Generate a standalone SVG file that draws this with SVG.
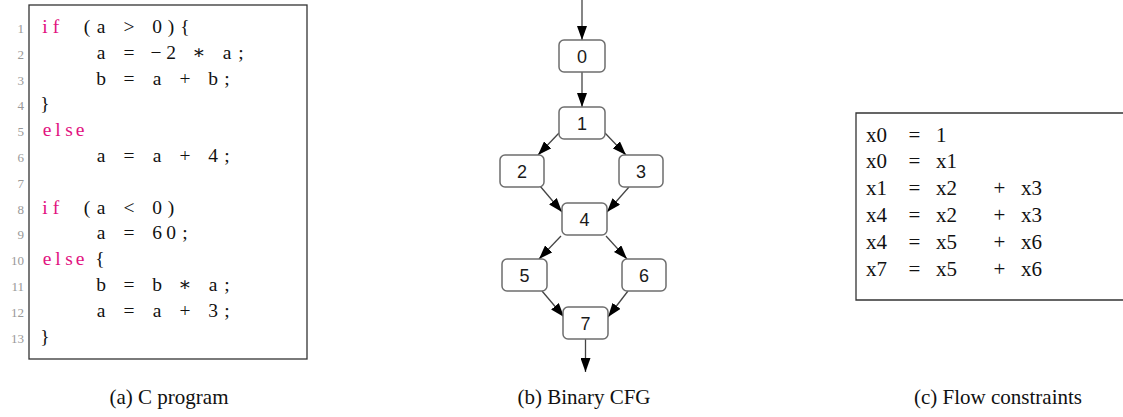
<svg xmlns="http://www.w3.org/2000/svg" width="1123" height="417" viewBox="0 0 1123 417">
  <style>
    .frame { fill: none; stroke: #333; stroke-width: 1.3; }
    .code { font-family: "Liberation Serif", "DejaVu Serif", serif; font-size: 19.5px; fill: #111; }
    .kw { fill: #e2127f; }
    .ln { font-family: "Liberation Serif", serif; font-size: 13px; fill: #999; text-anchor: end; }
    .eq { font-family: "Liberation Serif", serif; font-size: 21px; fill: #111; }
    .node rect { fill: #fff; stroke: #6e6e6e; stroke-width: 1.5; }
    .node text { font-family: "Liberation Sans", Arial, sans-serif; font-size: 18px; fill: #1a1a1a; text-anchor: middle; }
    .edge { stroke: #444; stroke-width: 1.3; fill: none; marker-end: url(#arrow); }
    .caption { font-family: "Liberation Serif", serif; font-size: 21px; fill: #111; text-anchor: middle; }
  </style>
  <defs>
    <marker id="arrow" viewBox="0 0 14 10" refX="14" refY="5" markerWidth="14" markerHeight="10" markerUnits="userSpaceOnUse" orient="auto">
      <path d="M0,0 L14,5 L0,10 Z" fill="#000"/>
    </marker>
  </defs>

  <!-- (a) C program listing -->
  <g id="program">
    <rect class="frame" x="29" y="5" width="278" height="354"/>
    <g class="ln">
      <text x="24" y="33">1</text>
      <text x="24" y="58.8">2</text>
      <text x="24" y="84.6">3</text>
      <text x="24" y="110.4">4</text>
      <text x="24" y="136.2">5</text>
      <text x="24" y="162">6</text>
      <text x="24" y="187.8">7</text>
      <text x="24" y="213.6">8</text>
      <text x="24" y="239.4">9</text>
      <text x="24" y="265.2">10</text>
      <text x="24" y="291">11</text>
      <text x="24" y="316.8">12</text>
      <text x="24" y="342.6">13</text>
    </g>
    <g class="code" text-anchor="middle">
      <!-- line 1 -->
      <text class="kw" x="45 56" y="33">if</text>
      <text x="87 101 129 157 171 185" y="33">(a&gt;0){</text>
      <!-- line 2 -->
      <text x="101 129 156 171 199 227 241" y="58.8">a=−2∗a;</text>
      <!-- line 3 -->
      <text x="101 129 157 185 213 227" y="84.6">b=a+b;</text>
      <!-- line 4 -->
      <text x="45" y="110.4">}</text>
      <!-- line 5 -->
      <text class="kw" x="47 58 69 80" y="136.2">else</text>
      <!-- line 6 -->
      <text x="101 129 157 185 213 227" y="162">a=a+4;</text>
      <!-- line 8 -->
      <text class="kw" x="45 56" y="213.6">if</text>
      <text x="87 101 129 157 171" y="213.6">(a&lt;0)</text>
      <!-- line 9 -->
      <text x="101 129 157 171 185" y="239.4">a=60;</text>
      <!-- line 10 -->
      <text class="kw" x="47 58 69 80" y="265.2">else</text>
      <text x="100" y="265.2">{</text>
      <!-- line 11 -->
      <text x="101 129 157 185 213 227" y="291">b=b∗a;</text>
      <!-- line 12 -->
      <text x="101 129 157 185 213 227" y="316.8">a=a+3;</text>
      <!-- line 13 -->
      <text x="45" y="342.6">}</text>
    </g>
  </g>

  <!-- (b) Binary CFG: connectors -->
  <g id="edges">
    <line class="edge" x1="582" y1="0" x2="582" y2="40"/>
    <line class="edge" x1="582" y1="72" x2="582" y2="107"/>
    <line class="edge" x1="559" y1="133" x2="538" y2="155"/>
    <line class="edge" x1="605" y1="133" x2="626" y2="155"/>
    <line class="edge" x1="540" y1="186" x2="562" y2="212"/>
    <line class="edge" x1="629" y1="187" x2="607" y2="212"/>
    <line class="edge" x1="561" y1="236" x2="539" y2="259"/>
    <line class="edge" x1="606" y1="236" x2="627" y2="259"/>
    <line class="edge" x1="542" y1="291" x2="564" y2="317"/>
    <line class="edge" x1="628" y1="291" x2="608" y2="317"/>
    <line class="edge" x1="585.5" y1="339" x2="585.5" y2="372"/>
  </g>

  <!-- (b) Binary CFG: blocks -->
  <g id="n0" class="node"><rect x="559" y="40" width="46" height="32" rx="5"/><text x="582" y="62.5">0</text></g>
  <g id="n1" class="node"><rect x="559" y="107" width="46" height="32" rx="5"/><text x="582" y="129.5">1</text></g>
  <g id="n2" class="node"><rect x="500" y="155" width="44" height="32" rx="5"/><text x="522" y="177.5">2</text></g>
  <g id="n3" class="node"><rect x="619" y="155" width="44" height="32" rx="5"/><text x="641" y="177.5">3</text></g>
  <g id="n4" class="node"><rect x="562" y="203" width="45" height="32" rx="5"/><text x="584.5" y="225.5">4</text></g>
  <g id="n5" class="node"><rect x="502" y="259" width="45" height="32" rx="5"/><text x="524.5" y="281.5">5</text></g>
  <g id="n6" class="node"><rect x="622" y="259" width="44" height="32" rx="5"/><text x="644" y="281.5">6</text></g>
  <g id="n7" class="node"><rect x="563" y="307" width="45" height="32" rx="5"/><text x="585.5" y="329.5">7</text></g>

  <!-- (c) Flow constraints -->
  <g id="constraints">
    <path class="frame" d="M1123,113 H856 V300 H1123"/>
    <g class="eq">
      <text x="866" y="141.5">x0</text><text x="914.5" y="141.5" text-anchor="middle">=</text><text x="936" y="141.5">1</text>
      <text x="866" y="168.3">x0</text><text x="914.5" y="168.3" text-anchor="middle">=</text><text x="936" y="168.3">x1</text>
      <text x="866" y="195.1">x1</text><text x="914.5" y="195.1" text-anchor="middle">=</text><text x="936" y="195.1">x2</text><text x="999.5" y="195.1" text-anchor="middle">+</text><text x="1021" y="195.1">x3</text>
      <text x="866" y="221.9">x4</text><text x="914.5" y="221.9" text-anchor="middle">=</text><text x="936" y="221.9">x2</text><text x="999.5" y="221.9" text-anchor="middle">+</text><text x="1021" y="221.9">x3</text>
      <text x="866" y="248.7">x4</text><text x="914.5" y="248.7" text-anchor="middle">=</text><text x="936" y="248.7">x5</text><text x="999.5" y="248.7" text-anchor="middle">+</text><text x="1021" y="248.7">x6</text>
      <text x="866" y="275.5">x7</text><text x="914.5" y="275.5" text-anchor="middle">=</text><text x="936" y="275.5">x5</text><text x="999.5" y="275.5" text-anchor="middle">+</text><text x="1021" y="275.5">x6</text>
    </g>
  </g>

  <!-- sub-figure captions -->
  <g id="captions" class="caption">
    <text x="169" y="404">(a) C program</text>
    <text x="584" y="404">(b) Binary CFG</text>
    <text x="998" y="404">(c) Flow constraints</text>
  </g>
</svg>
